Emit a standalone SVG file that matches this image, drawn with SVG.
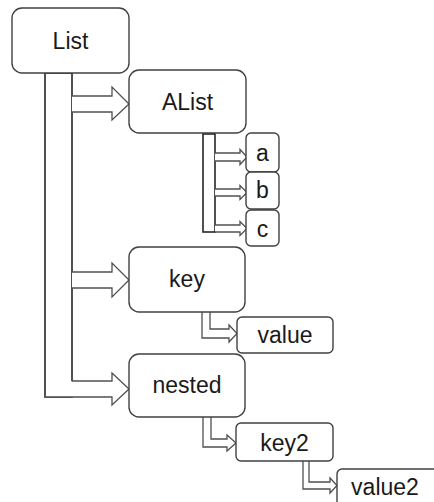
<svg xmlns="http://www.w3.org/2000/svg" width="434" height="502" viewBox="0 0 434 502">
<style>
.box{fill:#fff;stroke:#404040;stroke-width:1.4}
.lbl{font-family:"Liberation Sans",Arial,sans-serif;font-size:23px;fill:#1a1a1a;text-anchor:middle}
.bar{fill:#fff;stroke:#262626;stroke-width:1.6}
.arr{fill:#fff;stroke:#505050;stroke-width:1.3;stroke-linejoin:miter}
</style>
<rect width="434" height="502" fill="#fff"/>
<g id="connectors">
<rect class="bar" x="45" y="73" width="27" height="324"/>
<polyline class="arr" points="72,96 112,96 112,87 129,104 112,120 112,112 72,112"/>
<polyline class="arr" points="72,272 112,272 112,263 129,280 112,297 112,288 72,288"/>
<polyline class="arr" points="72,381 112,381 112,373 129,389 112,405 112,397 45,397"/>
<rect class="bar" x="203" y="134" width="12" height="98"/>
<polyline class="arr" points="215,153 240,153 240,149.5 247,157 240,164.5 240,161 215,161"/>
<polyline class="arr" points="215,189 240,189 240,185.5 247,192.5 240,199.5 240,196 215,196"/>
<polyline class="arr" points="215,225 240,225 240,221.5 247,228.5 240,235.5 240,232 215,232"/>
<polyline class="arr" points="210,312 210,329 229,329 229,325 237,333.5 229,342 229,338 202,338 202,312"/>
<polyline class="arr" points="211,417 211,439 227,439 227,435 236,443 227,451 227,447 203,447 203,417"/>
<polyline class="arr" points="309,461 309,482 330,482 330,478 337,485.5 330,493 330,489 303,489 303,461"/>
</g>
<g id="List"><rect class="box" x="12" y="8" width="117" height="65" rx="10"/><text class="lbl" x="70.5" y="49">List</text></g>
<g id="AList"><rect class="box" x="129" y="70" width="117" height="63" rx="10"/><text class="lbl" x="187.5" y="110">AList</text></g>
<g id="a"><rect class="box" x="246" y="133" width="33" height="39" rx="5"/><text class="lbl" x="262.5" y="161">a</text></g>
<g id="b"><rect class="box" x="246" y="172" width="33" height="37" rx="5"/><text class="lbl" x="262.5" y="198">b</text></g>
<g id="c"><rect class="box" x="246" y="210" width="33" height="36" rx="5"/><text class="lbl" x="262.5" y="237">c</text></g>
<g id="key"><rect class="box" x="129" y="247" width="116" height="65" rx="10"/><text class="lbl" x="187" y="287">key</text></g>
<g id="value"><rect class="box" x="237" y="317" width="96" height="36" rx="5"/><text class="lbl" x="285" y="343">value</text></g>
<g id="nested"><rect class="box" x="129" y="354" width="116" height="63" rx="10"/><text class="lbl" x="187" y="393">nested</text></g>
<g id="key2"><rect class="box" x="236" y="423" width="97" height="38" rx="5"/><text class="lbl" x="284.5" y="451">key2</text></g>
<g id="value2"><rect class="box" x="337" y="469" width="110" height="50" rx="5"/><text class="lbl" x="385" y="495">value2</text></g>
</svg>
